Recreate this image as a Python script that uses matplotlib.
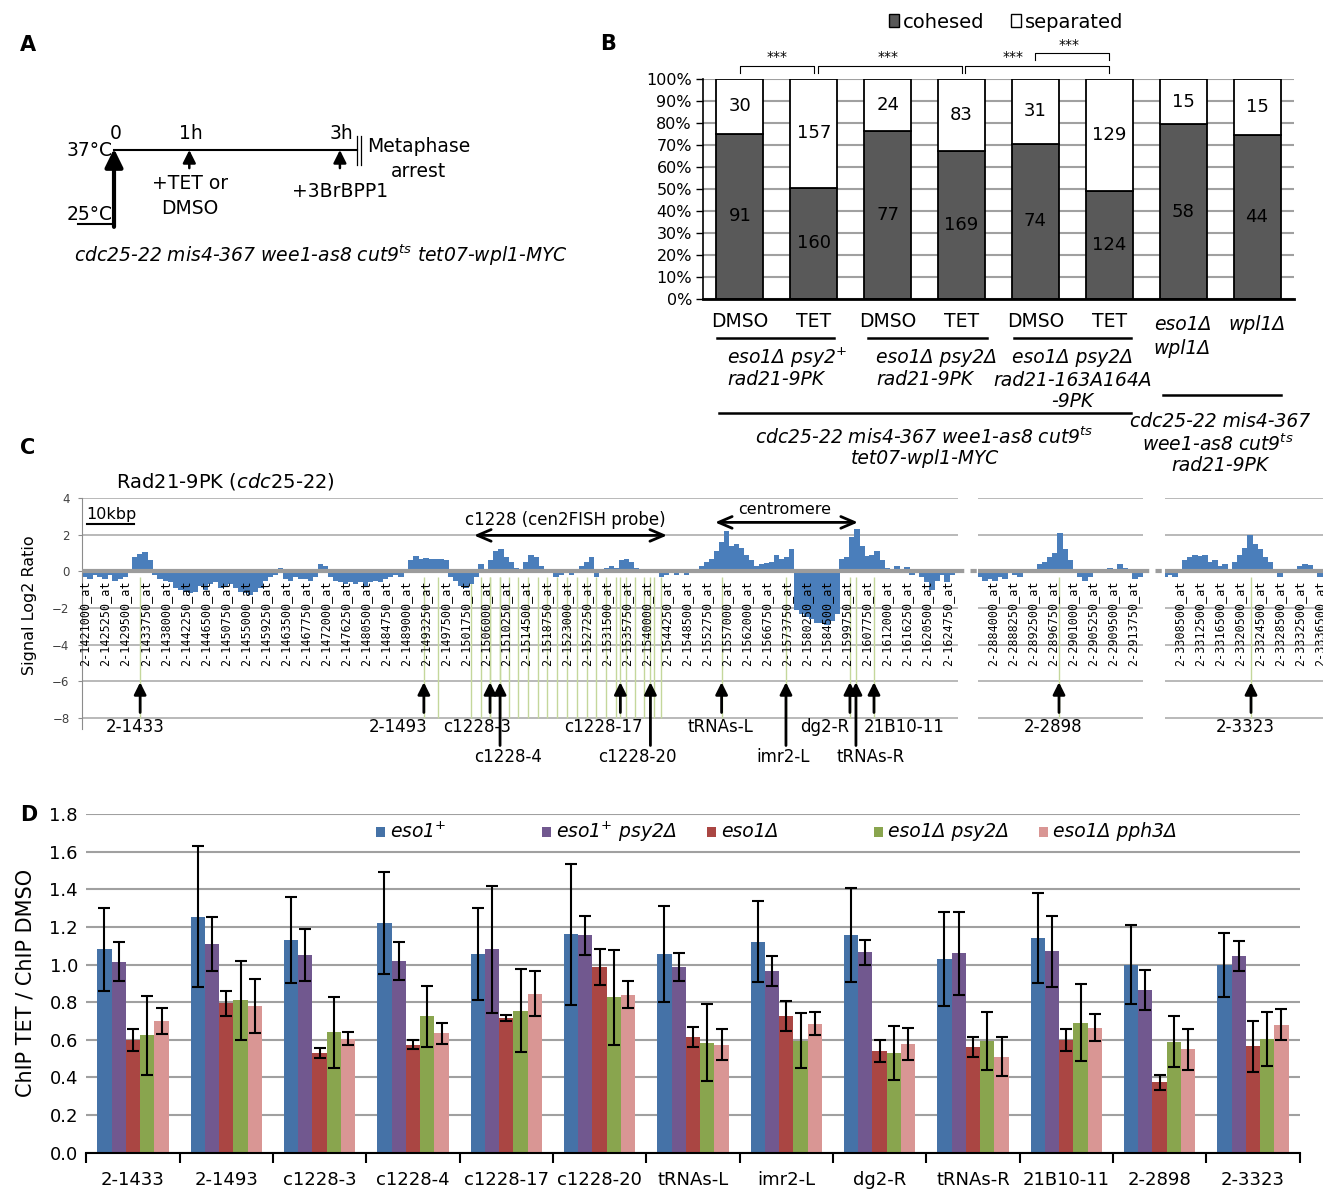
#!/usr/bin/env python3
"""
Four-panel figure: (A) arrest timeline, (B) cohesion counts per strain,
(C) Rad21 tiling-array profile around cen2, (D) ChIP TET/DMSO ratios.
"""
import matplotlib
matplotlib.use("Agg")
import matplotlib.pyplot as plt
from matplotlib.lines import Line2D
from matplotlib.patches import Rectangle
import numpy as np

W, H = 1323, 1189

# ---------------- data ----------------
# A: timeline (hours, degrees C)
a_times = [0, 1, 3]
a_time_labels = ["0", "1h", "3h"]
a_temps = [25, 37]
a_genotype = r"cdc25-22 mis4-367 wee1-as8 cut9$^{ts}$ tet07-wpl1-MYC"

# B: cell counts
b_treatments = ["DMSO", "TET", "DMSO", "TET", "DMSO", "TET"]
b_cohesed = [91, 160, 77, 169, 74, 124, 58, 44]
b_separated = [30, 157, 24, 83, 31, 129, 15, 15]

# C: tiling array probes (chr2 coordinates) and log2 signal
c_probes_left = [1421000, 1425250, 1429500, 1433750, 1438000, 1442250, 1446500,
                 1450750, 1455000, 1459250, 1463500, 1467750, 1472000, 1476250,
                 1480500, 1484750, 1489000, 1493250, 1497500, 1501750, 1506000,
                 1510250, 1514500, 1518750, 1523000, 1527250, 1531500, 1535750,
                 1540000, 1544250, 1548500, 1552750, 1557000, 1562000, 1566750,
                 1573750, 1580250, 1584500, 1599750, 1607750, 1612000, 1616250,
                 1620500, 1624750]
c_probes_mid = [2884000, 2888250, 2892500, 2896750, 2901000, 2905250, 2909500, 2913750]
c_probes_right = [3308500, 3312500, 3316500, 3320500, 3324500, 3328500, 3332500, 3336500]

c_signal_left = [
    -0.3, -0.4, -0.2, -0.3, -0.4, -0.2, -0.5, -0.4, -0.3, -0.1,
    0.8, 0.95, 1.05, 0.6, -0.2, -0.4, -0.5, -0.6, -0.9, -1.0,
    -1.1, -1.2, -1.1, -0.8, -1.0, -0.7, -0.6, -0.9, -0.8, -0.7,
    -0.9, -1.1, -1.2, -1.3, -1.1, -0.9, -0.5, -0.3, -0.2, 0.2,
    -0.4, -0.5, -0.3, -0.4,
    -0.4, -0.5, -0.3, 0.4, 0.3, -0.3, -0.5, -0.6, -0.7, -0.6,
    -0.7, -0.6, -0.8, -0.6, -0.5, -0.6, -0.4, -0.3, -0.2, -0.3,
    -0.1, 0.6, 0.85, 0.7, 0.75, 0.7, 0.65, 0.7, 0.6, -0.3,
    -0.5, -0.8, -0.9, -0.7, -0.3, 0.4, -0.1, 0.6, 1.1, 1.2,
    0.8, 0.5, 0.2,
    0.1, 0.5, 0.9, 0.8, 0.3, 0.05, -0.1, -0.3, -0.2, -0.1,
    -0.2, 0.1, 0.3, 0.5, 0.8, -0.3, 0.1, 0.2, 0.3, 0.2,
    0.6, 0.7, 0.5, 0.2, 0.1, 0.05, 0.05, 0.0, -0.3, -0.2,
    0.05, -0.2, 0.1, -0.2, 0.05, 0.1, 0.3, 0.5, 0.7, 1.1,
    1.6, 2.2, 1.4, 1.5,
    1.3, 0.9, 0.6, 0.3, 0.4, 0.45, 0.5, 0.9, 0.7, 0.8,
    1.2, -2.1, -2.3, -2.5, -2.6, -2.8, -2.8, -2.9, -2.7, -2.3,
    0.7, 0.8, 1.9, 2.3, 1.4, 0.85, 0.9, 1.1, 0.6, 0.2,
    0.15, 0.3, 0.1, 0.25, -0.2, 0.0, -0.3, -0.6, -1.0, -0.5,
    -0.2, -0.6, -0.2, -0.1,
]
c_signal_mid = [-0.3, -0.5, -0.4, -0.5, -0.3, -0.4, -0.1, -0.2, -0.3, 0.05, 0.1,
                0.05, 0.4, 0.5, 0.8, 1.0, 2.1, 1.2, 0.6, 0.0, -0.3, -0.5, -0.3,
                -0.1, -0.05, 0.05, 0.2, 0.15, 0.4, 0.2, 0.1, -0.4, -0.3]
c_signal_right = [-0.3, -0.2, -0.3, 0.1, 0.6, 0.8, 0.9, 0.85, 0.9, 0.5, 0.6, 0.3,
                  0.4, 0.05, 0.5, 0.9, 1.3, 2.0, 1.5, 1.2, 0.8, 0.5, 0.1, -0.3,
                  0.05, 0.0, 0.05, 0.3, 0.4, 0.35, 0.1, -0.3]

# primer sites (position in probe slots)
c_sites_left = ["2-1433", "2-1493", "c1228-3", "c1228-4", "c1228-17", "c1228-20",
                "tRNAs-L", "imr2-L", "dg2-R", "tRNAs-R", "21B10-11"]
c_sites_left_pos = [2.75, 16.9, 20.2, 20.7, 26.7, 28.2, 31.75, 34.96, 38.15, 38.45, 39.35]
c_probe_lines = [17.6, 19.24, 19.73, 20.2, 20.7, 21.17, 21.62, 22.1, 22.57, 23.06,
                 23.55, 24.05, 24.53, 25.02, 25.5, 25.98, 26.47, 26.97, 27.43,
                 27.9, 28.38, 28.72]
c_site_mid, c_site_mid_pos = "2-2898", 3.3
c_site_right, c_site_right_pos = "2-3323", 3.55

# D: ChIP TET / ChIP DMSO
d_sites = ["2-1433", "2-1493", "c1228-3", "c1228-4", "c1228-17", "c1228-20",
           "tRNAs-L", "imr2-L", "dg2-R", "tRNAs-R", "21B10-11", "2-2898", "2-3323"]
d_labels = [r"eso1$^{+}$", r"eso1$^{+}$ psy2Δ", "eso1Δ", "eso1Δ psy2Δ", "eso1Δ pph3Δ"]
d_eso1 = [1.08, 1.255, 1.13, 1.22, 1.055, 1.16, 1.055, 1.12, 1.155, 1.03, 1.14, 1.0, 1.0]
d_eso1_err = [0.22, 0.375, 0.23, 0.27, 0.245, 0.375, 0.255, 0.215, 0.25, 0.25, 0.24, 0.21, 0.17]
d_eso1_psy2 = [1.015, 1.11, 1.05, 1.02, 1.08, 1.155, 0.985, 0.965, 1.065, 1.06, 1.07, 0.865, 1.045]
d_eso1_psy2_err = [0.105, 0.145, 0.14, 0.10, 0.34, 0.105, 0.075, 0.08, 0.065, 0.22, 0.19, 0.105, 0.08]
d_del = [0.60, 0.795, 0.53, 0.575, 0.715, 0.985, 0.615, 0.725, 0.54, 0.56, 0.60, 0.375, 0.565]
d_del_err = [0.058, 0.066, 0.027, 0.025, 0.015, 0.095, 0.055, 0.08, 0.057, 0.053, 0.06, 0.04, 0.135]
d_del_psy2 = [0.625, 0.81, 0.64, 0.725, 0.755, 0.825, 0.585, 0.595, 0.53, 0.595, 0.69, 0.59, 0.605]
d_del_psy2_err = [0.21, 0.21, 0.19, 0.163, 0.22, 0.254, 0.205, 0.145, 0.145, 0.155, 0.205, 0.135, 0.145]
d_del_pph3 = [0.70, 0.78, 0.605, 0.635, 0.845, 0.84, 0.575, 0.685, 0.58, 0.51, 0.665, 0.55, 0.68]
d_del_pph3_err = [0.067, 0.143, 0.035, 0.056, 0.12, 0.071, 0.085, 0.062, 0.085, 0.103, 0.072, 0.11, 0.083]
d_colors = ["#4572A7", "#71588F", "#AA4643", "#89A54E", "#D99694"]


def rect(left, top, right, bottom):
    """Pixel box -> figure fraction rect."""
    return [left / W, 1 - bottom / H, (right - left) / W, (bottom - top) / H]


fig = plt.figure(figsize=(W / 100, H / 100), dpi=100)

for letter, (px, py) in zip("ABCD", [(20, 45), (600, 44), (20, 448), (20, 815)]):
    fig.text(px / W, 1 - py / H, letter, fontsize=15, fontweight="bold",
             ha="left", va="center")

# ---------------- A ----------------
ax_a = fig.add_axes(rect(0, 0, 600, 290))
ax_a.set_xlim(-1.514, 6.454)
ax_a.set_ylim(14.6, 61.0)
ax_a.axis("off")
t_end = 3.23
ax_a.plot([a_times[0], t_end], [a_temps[1]] * 2, color="k", lw=1.5)
for tx in (t_end, t_end + 0.045):
    ax_a.plot([tx, tx], [34.6, 39.2], color="k", lw=0.9)
ax_a.plot([-0.48, a_times[0]], [a_temps[0] + 0.2] * 2, color="k", lw=1.5)
ax_a.annotate("", xy=(a_times[0], a_temps[1] + 0.2), xytext=(a_times[0], a_temps[0] - 0.3),
              arrowprops=dict(arrowstyle="-|>,head_length=0.55,head_width=0.27",
                              lw=3, color="k", shrinkA=0, shrinkB=0, mutation_scale=20))
for t in a_times[1:]:
    ax_a.annotate("", xy=(t, a_temps[1]), xytext=(t, 34.1),
                  arrowprops=dict(arrowstyle="-|>,head_length=0.7,head_width=0.35",
                                  lw=1.8, color="k", shrinkA=0, shrinkB=0, mutation_scale=11))
fs_a = 13.5
for t, lab in zip(a_times, a_time_labels):
    ax_a.text(t + 0.02, 39.7, lab, fontsize=fs_a, ha="center", va="center")
ax_a.text(-0.02, a_temps[1], "37°C", fontsize=fs_a, ha="right", va="center")
ax_a.text(-0.02, 26.6, "25°C", fontsize=fs_a, ha="right", va="center")
ax_a.text(1.01, 31.7, "+TET or", fontsize=fs_a, ha="center", va="center")
ax_a.text(1.01, 27.7, "DMSO", fontsize=fs_a, ha="center", va="center")
ax_a.text(3.0, 30.4, "+3BrBPP1", fontsize=fs_a, ha="center", va="center")
ax_a.text(4.05, 37.6, "Metaphase", fontsize=fs_a, ha="center", va="center")
ax_a.text(4.05, 33.6, "arrest", fontsize=fs_a, ha="center", va="center")
ax_a.text(2.75, 20.2, a_genotype, fontsize=13.5, style="italic", ha="center", va="center")

# ---------------- B ----------------
ax_b = fig.add_axes(rect(703, 79, 1294, 299))
xb = np.arange(len(b_cohesed))
coh = np.array(b_cohesed, float)
sep = np.array(b_separated, float)
coh_pct = 100 * coh / (coh + sep)
sep_pct = 100 - coh_pct
bw = 0.635
ax_b.bar(xb, coh_pct, width=bw, color="#595959", edgecolor="k", lw=1.3, zorder=2)
ax_b.bar(xb, sep_pct, bottom=coh_pct, width=bw, color="white", edgecolor="k", lw=1.3, zorder=2)
fs_b = 13
for i in xb:
    ax_b.text(i, coh_pct[i] / 2, str(b_cohesed[i]), fontsize=fs_b, ha="center", va="center")
    ax_b.text(i, coh_pct[i] + sep_pct[i] / 2, str(b_separated[i]), fontsize=fs_b,
              ha="center", va="center")
ax_b.set_xlim(-0.5, 7.5)
ax_b.set_ylim(0, 100)
ax_b.set_yticks(range(0, 101, 10))
ax_b.set_yticklabels([f"{v}%" for v in range(0, 101, 10)])
ax_b.tick_params(axis="y", labelsize=11.5, length=5, width=1, pad=3)
ax_b.set_xticks([])
ax_b.yaxis.grid(True, color="#a0a0a0", lw=1.5)
ax_b.set_axisbelow(True)
for s in ("top", "right"):
    ax_b.spines[s].set_visible(False)
ax_b.spines["bottom"].set_linewidth(2)
ax_b.spines["left"].set_linewidth(1.2)

kw = dict(fontsize=13.5, ha="center", va="center", clip_on=False)
for i, tr in enumerate(b_treatments):
    ax_b.text(i, -10.4, tr, **kw)
ax_b.text(6.0, -11.8, "eso1Δ", style="italic", **kw)
ax_b.text(5.98, -22.3, "wpl1Δ", style="italic", **kw)
ax_b.text(7.0, -11.8, "wpl1Δ", style="italic", **kw)

kwl = dict(fontsize=13.5, ha="left", va="center", style="italic", clip_on=False)
ax_b.text(-0.17, -26.8, r"eso1Δ psy2$^{+}$", **kwl)
ax_b.text(-0.17, -36.4, "rad21-9PK", **kwl)
ax_b.text(1.84, -26.8, "eso1Δ psy2Δ", **kwl)
ax_b.text(1.84, -36.4, "rad21-9PK", **kwl)
kwc = dict(fontsize=13.5, ha="center", va="center", style="italic", clip_on=False)
ax_b.text(4.5, -26.8, "eso1Δ psy2Δ", **kwc)
ax_b.text(4.5, -37.0, "rad21-163A164A", **kwc)
ax_b.text(4.5, -46.8, "-9PK", **kwc)
ax_b.text(2.5, -62.7, r"cdc25-22 mis4-367 wee1-as8 cut9$^{ts}$", **kwc)
ax_b.text(2.5, -72.3, "tet07-wpl1-MYC", **kwc)
ax_b.text(6.5, -55.5, "cdc25-22 mis4-367", **kwc)
ax_b.text(6.47, -65.9, r"wee1-as8 cut9$^{ts}$", **kwc)
ax_b.text(6.5, -75.5, "rad21-9PK", **kwc)

for x0, x1, yv in [(-0.31, 1.27, -17.7), (1.74, 3.34, -17.7), (3.71, 5.30, -17.7),
                   (-0.29, 5.30, -51.8), (5.72, 7.33, -43.6)]:
    ax_b.plot([x0, x1], [yv, yv], color="k", lw=1.8, clip_on=False)

# significance brackets
for (x0, x1), yb, xs in zip([(0, 1.0), (1.05, 3.0), (3.05, 5.0), (4.0, 5.0)],
                            [106, 106, 106, 111.7], [0.5, 2.0, 3.7, 4.45]):
    ax_b.plot([x0, x0, x1, x1], [yb - 3.1, yb, yb, yb - 3.1], color="k", lw=0.8,
              clip_on=False)
    ax_b.text(xs, yb + 0.6, "***", fontsize=10, ha="center", va="bottom", clip_on=False)

handles = [Rectangle((0, 0), 1, 1, fc="#595959", ec="k", lw=1),
           Rectangle((0, 0), 1, 1, fc="white", ec="k", lw=1)]
ax_b.legend(handles, ["cohesed", "separated"], ncol=2, frameon=False, fontsize=14,
            handlelength=0.5, handleheight=0.6, handletextpad=0.2, columnspacing=1.4,
            loc="center", bbox_to_anchor=(1006 / W, 1 - 22 / H),
            bbox_transform=fig.transFigure)

# ---------------- C ----------------
sig_color = "#4a7ebb"
grid_c = "#a6a6a6"
green = "#c4d79b"
ax_c1 = fig.add_axes(rect(82, 498, 958, 729))
ax_c2 = fig.add_axes(rect(978, 498, 1143, 729))
ax_c3 = fig.add_axes(rect(1165, 498, 1323, 729))
c_panels = [
    (ax_c1, c_probes_left, c_signal_left, 0.0, (-0.15, 43.54)),
    (ax_c2, c_probes_mid, c_signal_mid, -0.65, (-0.75, 7.5)),
    (ax_c3, c_probes_right, c_signal_right, -0.75, (-0.75, 7.15)),
]
for ax, probes, sig, x0, xl in c_panels:
    ax.set_xlim(*xl)
    ax.set_ylim(-8.6, 4)
    xs = x0 + 0.25 * np.arange(len(sig))
    ax.bar(xs, sig, width=0.27, color=sig_color, lw=0, zorder=2)
    for yv in (4, 2, -2, -4, -6, -8):
        ax.axhline(yv, color=grid_c, lw=1.1, zorder=1)
    ax.axhline(0, color="#9c9c9c", lw=3, zorder=3)
    for i, p in enumerate(probes):
        ax.text(i, -2.82, f"2-{p}_at", rotation=90, ha="center", va="center",
                fontsize=8.5, family="DejaVu Sans Mono", zorder=4, clip_on=False)
    for s in ax.spines.values():
        s.set_visible(False)
    ax.set_xticks([])
    ax.set_yticks([])

ax_c1.spines["left"].set_visible(True)
ax_c1.spines["left"].set_color("#8c8c8c")
ax_c1.set_yticks([4, 2, 0, -2, -4, -6, -8])
ax_c1.tick_params(axis="y", labelsize=8.5, labelcolor="#404040", length=3,
                  color="#8c8c8c", pad=6)

ax_c1.vlines(c_probe_lines + c_sites_left_pos, -8, -0.3, color=green, lw=1, zorder=1)
ax_c2.vlines([c_site_mid_pos], -8, -0.3, color=green, lw=1, zorder=1)
ax_c3.vlines([c_site_right_pos], -8, -0.3, color=green, lw=1, zorder=1)

arrow_kw = dict(arrowstyle="-|>,head_length=0.6,head_width=0.3", lw=2, color="k",
                shrinkA=0, shrinkB=0, mutation_scale=12)
long_sites = {"c1228-4", "c1228-20", "imr2-L", "tRNAs-R"}
label_x = [2.49, 15.6, 19.55, 21.1, 25.83, 27.53, 31.67, 34.81, 36.9, 39.2, 40.85]
for name, pos, lx in zip(c_sites_left, c_sites_left_pos, label_x):
    is_long = name in long_sites
    ax_c1.annotate("", xy=(pos, -6.05), xytext=(pos, -9.5 if is_long else -7.7),
                   arrowprops=arrow_kw, annotation_clip=False)
    ax_c1.text(lx, -10.15 if is_long else -8.51, name, fontsize=12, ha="center",
               va="center", clip_on=False)
for ax, name, pos, lx in [(ax_c2, c_site_mid, c_site_mid_pos, 3.0),
                          (ax_c3, c_site_right, c_site_right_pos, 3.28)]:
    ax.annotate("", xy=(pos, -6.05), xytext=(pos, -7.7), arrowprops=arrow_kw,
                annotation_clip=False)
    ax.text(lx, -8.51, name, fontsize=12, ha="center", va="center", clip_on=False)

# scale bar and region arrows (10 kb = 10000 / 4250 probe slots)
ax_c1.plot([0.1, 0.1 + 10000 / 4250], [2.56, 2.56], color="k", lw=1.5)
ax_c1.text(0.05, 3.1, "10kbp", fontsize=11.5, ha="left", va="center")
dbl = dict(arrowstyle="<->,head_length=0.7,head_width=0.3", lw=2, color="k",
           shrinkA=0, shrinkB=0, mutation_scale=14)
ax_c1.annotate("", xy=(19.4, 1.96), xytext=(29.03, 1.96), arrowprops=dbl)
ax_c1.text(23.94, 2.78, "c1228 (cen2FISH probe)", fontsize=12, ha="center", va="center")
ax_c1.annotate("", xy=(31.42, 2.67), xytext=(38.55, 2.67), arrowprops=dbl)
ax_c1.text(34.9, 3.4, "centromere", fontsize=11.5, ha="center", va="center")

y0 = 1 - 571.3 / H
for xa, xb_ in [(958, 978), (1143, 1165)]:
    fig.add_artist(Line2D([xa / W, xb_ / W], [y0, y0], color="#9c9c9c", lw=3,
                          ls=(0, (1.5, 1.5))))

fig.text(116 / W, 1 - 481 / H, r"Rad21-9PK ($\mathit{cdc25}$-$\mathit{22}$)",
         fontsize=14, ha="left", va="center")
fig.text(29.5 / W, 1 - 605.5 / H, "Signal Log2 Ratio", rotation=90, fontsize=11.5,
         ha="center", va="center")

# ---------------- D ----------------
ax_d = fig.add_axes(rect(86.3, 814, 1299.6, 1152.7))
xd = np.arange(len(d_sites))
wd = 0.153
series = [(d_eso1, d_eso1_err), (d_eso1_psy2, d_eso1_psy2_err), (d_del, d_del_err),
          (d_del_psy2, d_del_psy2_err), (d_del_pph3, d_del_pph3_err)]
for k, ((vals, err), col) in enumerate(zip(series, d_colors)):
    xx = xd + (k - 2) * wd
    ax_d.bar(xx, vals, width=wd, color=col, lw=0, zorder=2)
    ax_d.errorbar(xx, vals, yerr=err, fmt="none", ecolor="k", elinewidth=1.5,
                  capsize=4.5, capthick=1.5, zorder=3)
ax_d.set_xlim(-0.5, len(d_sites) - 0.5)
ax_d.set_ylim(0, 1.8)
ax_d.set_yticks(np.arange(0, 1.81, 0.2))
ax_d.set_yticklabels([f"{v:.1f}" for v in np.arange(0, 1.81, 0.2)])
ax_d.tick_params(axis="y", labelsize=13, length=0, pad=6)
ax_d.set_xticks(xd)
ax_d.set_xticklabels(d_sites)
ax_d.tick_params(axis="x", labelsize=13, length=0, pad=13)
ax_d.set_xticks(np.arange(-0.5, len(d_sites)), minor=True)
ax_d.tick_params(axis="x", which="minor", length=7, width=1.5)
ax_d.yaxis.grid(True, color="#a0a0a0", lw=1.5)
ax_d.set_axisbelow(True)
for s in ("top", "right", "left"):
    ax_d.spines[s].set_visible(False)
ax_d.spines["bottom"].set_linewidth(1.5)
ax_d.set_ylabel("ChIP TET / ChIP DMSO", fontsize=15, labelpad=10)

sq_px = [376, 542, 707, 874, 1039]
for px, lab, col in zip(sq_px, d_labels, d_colors):
    xa = (px - 86.3) / 1213.3
    ya = (1152.7 - 832) / 338.7
    ax_d.add_patch(Rectangle((xa, ya - 5 / 338.7), 9 / 1213.3, 10 / 338.7,
                             transform=ax_d.transAxes, fc=col, lw=0, clip_on=False))
    ax_d.text(xa + 14 / 1213.3, ya, lab, transform=ax_d.transAxes, fontsize=13.5,
              style="italic", ha="left", va="center")

fig.savefig("out.png", dpi=100)
